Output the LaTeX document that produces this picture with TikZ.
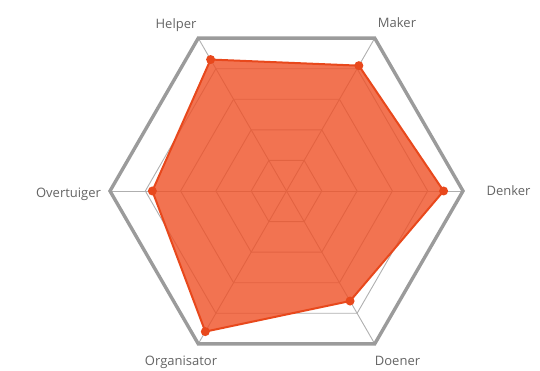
\documentclass[tikz,border=0pt]{standalone}
\usepackage{fontspec}
\setmainfont{Open Sans}
\definecolor{gridgray}{RGB}{175,175,175}
\definecolor{outergray}{RGB}{155,155,155}
\definecolor{serieline}{RGB}{232,72,28}
\definecolor{seriefill}{RGB}{239,80,38}
\definecolor{labelgray}{RGB}{100,100,100}
\begin{document}
\begin{tikzpicture}[x=1pt,y=1pt,
  lbl/.style={font=\fontsize{13}{15}\selectfont, text=labelgray, inner sep=0, anchor=mid},
  dot/.style={circle, fill=serieline, inner sep=0, minimum size=9pt},
  gridline/.style={draw=gridgray, line width=0.9pt},
  outerline/.style={draw=outergray, line width=3.4pt, line join=miter},
  serie/.style={fill=seriefill, fill opacity=0.8, draw=serieline, draw opacity=1, line width=2pt, line join=round}]
\useasboundingbox (0,0) rectangle (540,371);
\coordinate (c) at (286.5,180);
% grid levels
\foreach \k in {1,2,3,4}{
  \pgfmathsetmacro{\r}{\k*35.3}
  \draw[gridline] ([shift={(0:\r)}]c) -- ([shift={(60:\r)}]c) -- ([shift={(120:\r)}]c) -- ([shift={(180:\r)}]c) -- ([shift={(240:\r)}]c) -- ([shift={(300:\r)}]c) -- cycle;
}
% axes
\foreach \a/\n in {120/helper,60/maker,0/denker,-60/doener,-120/organisator,180/overtuiger}{
  \coordinate (o-\n) at ([shift={(\a:176.5)}]c);
  \draw[gridline] (c) -- (o-\n);
}
\draw[outerline] (o-denker) -- (o-maker) -- (o-helper) -- (o-overtuiger) -- (o-organisator) -- (o-doener) -- cycle;
% data
\foreach \a/\n/\v in {120/helper/0.86,60/maker/0.82,0/denker/0.89,-60/doener/0.72,-120/organisator/0.92,180/overtuiger/0.76}{
  \coordinate (d-\n) at ([shift={(\a:\v*176.5)}]c);
}
\draw[serie] (d-denker) -- (d-maker) -- (d-helper) -- (d-overtuiger) -- (d-organisator) -- (d-doener) -- cycle;
\foreach \n in {helper,maker,denker,doener,organisator,overtuiger}{
  \node[dot] (p-\n) at (d-\n) {};
}
% labels
\node[lbl] (l-helper) at (176,345) {Helper};
\node[lbl] (l-maker) at (397,346) {Maker};
\node[lbl] (l-denker) at (508.5,178) {Denker};
\node[lbl] (l-doener) at (397.5,8) {Doener};
\node[lbl] (l-organisator) at (181,8) {Organisator};
\node[lbl] (l-overtuiger) at (68.5,176) {Overtuiger};
\end{tikzpicture}
\end{document}
